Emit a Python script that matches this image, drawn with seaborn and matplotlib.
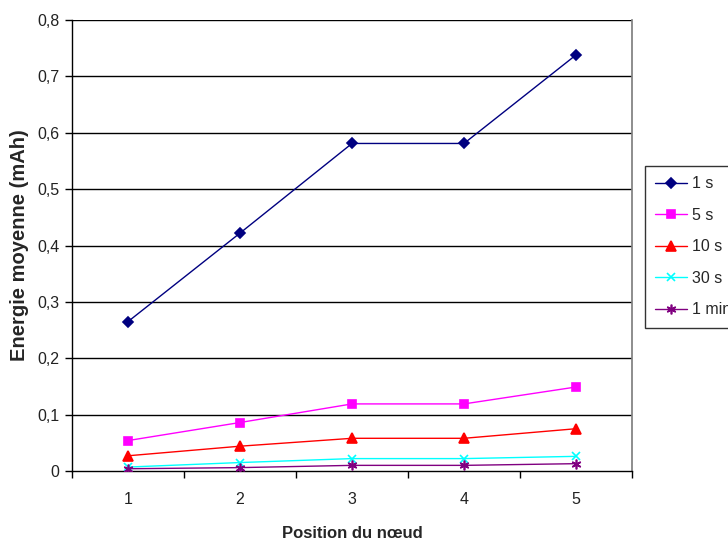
import matplotlib
matplotlib.use("Agg")
import matplotlib.pyplot as plt
import seaborn as sns
import pandas as pd
from matplotlib.ticker import FixedLocator, FuncFormatter

positions = [1, 2, 3, 4, 5]
series_names = ["1 s", "5 s", "10 s", "30 s", "1 min"]
e_1s = [0.265, 0.422, 0.581, 0.581, 0.738]
e_5s = [0.054, 0.086, 0.119, 0.119, 0.149]
e_10s = [0.027, 0.044, 0.058, 0.058, 0.075]
e_30s = [0.007, 0.015, 0.022, 0.022, 0.026]
e_1min = [0.004, 0.006, 0.010, 0.010, 0.013]
y_ticks = [0, 0.1, 0.2, 0.3, 0.4, 0.5, 0.6, 0.7, 0.8]

colors = ["#000080", "#FF00FF", "#FF0000", "#00FFFF", "#800080"]
markers = ["D", "s", "^", "x", (6, 2, 0)]
msizes = [5, 6, 7, 6, 7]

sns.set_theme(style="white")
plt.rcParams["font.family"] = ["Liberation Sans", "DejaVu Sans"]

rows = []
for name, vals in zip(series_names, [e_1s, e_5s, e_10s, e_30s, e_1min]):
    for p, v in zip(positions, vals):
        rows.append({"Position": p, "Energie": v, "Série": name})
df = pd.DataFrame(rows)

fig = plt.figure(figsize=(7.28, 5.43), dpi=100)
ax = fig.add_axes([72 / 728, 1 - 471 / 543, 560 / 728, 451 / 543])

for name, c, m, ms in zip(series_names, colors, markers, msizes):
    sub = df[df["Série"] == name]
    sns.lineplot(data=sub, x="Position", y="Energie", ax=ax, color=c,
                 marker=m, markersize=ms, markeredgecolor=c, markerfacecolor=c,
                 markeredgewidth=1.2, linewidth=1.0, label=name, zorder=3)

ax.set_xlim(0.5, 5.5)
ax.set_ylim(0, 0.8)
ax.yaxis.set_major_locator(FixedLocator(y_ticks))
ax.yaxis.set_major_formatter(FuncFormatter(lambda v, p: ("%g" % round(v, 1)).replace(".", ",")))
ax.set_xticks([0.5, 1.5, 2.5, 3.5, 4.5, 5.5])
ax.set_xticklabels([])
ax.set_xticks(positions, minor=True)
ax.set_xticklabels([str(p) for p in positions], minor=True)
ax.tick_params(axis="x", which="major", direction="out", length=5, width=1, color="black", bottom=True)
ax.tick_params(axis="x", which="minor", length=0, pad=15, labelsize=11.5, labelcolor="#222222")
ax.tick_params(axis="y", direction="out", length=5, width=1, color="black", left=True,
               labelsize=11.5, labelcolor="#222222", pad=4)

for y in y_ticks[1:]:
    ax.axhline(y, color="black", linewidth=1.0, zorder=1)

for s in ["left", "bottom"]:
    ax.spines[s].set_color("black")
    ax.spines[s].set_linewidth(1.0)
ax.spines["right"].set_color("#808080")
ax.spines["top"].set_visible(False)

ax.set_xlabel("Position du nœud", fontweight="bold", fontsize=12, labelpad=14)
ax.set_ylabel("Energie moyenne (mAh)", fontweight="bold", fontsize=14.5, labelpad=6)
ax.grid(False)

ax.legend_.remove()
handles, labels = ax.get_legend_handles_labels()
leg = fig.legend(handles, labels, loc="upper left", bbox_to_anchor=(645 / 728, 1 - 166 / 543),
                 frameon=True, fancybox=False, shadow=False, fontsize=11.5,
                 handlelength=1.95, borderpad=0.65, labelspacing=1.03, handletextpad=0.35,
                 borderaxespad=0)
leg.get_frame().set_edgecolor("black")
leg.get_frame().set_linewidth(1.0)

fig.savefig("out.png", dpi=100)
